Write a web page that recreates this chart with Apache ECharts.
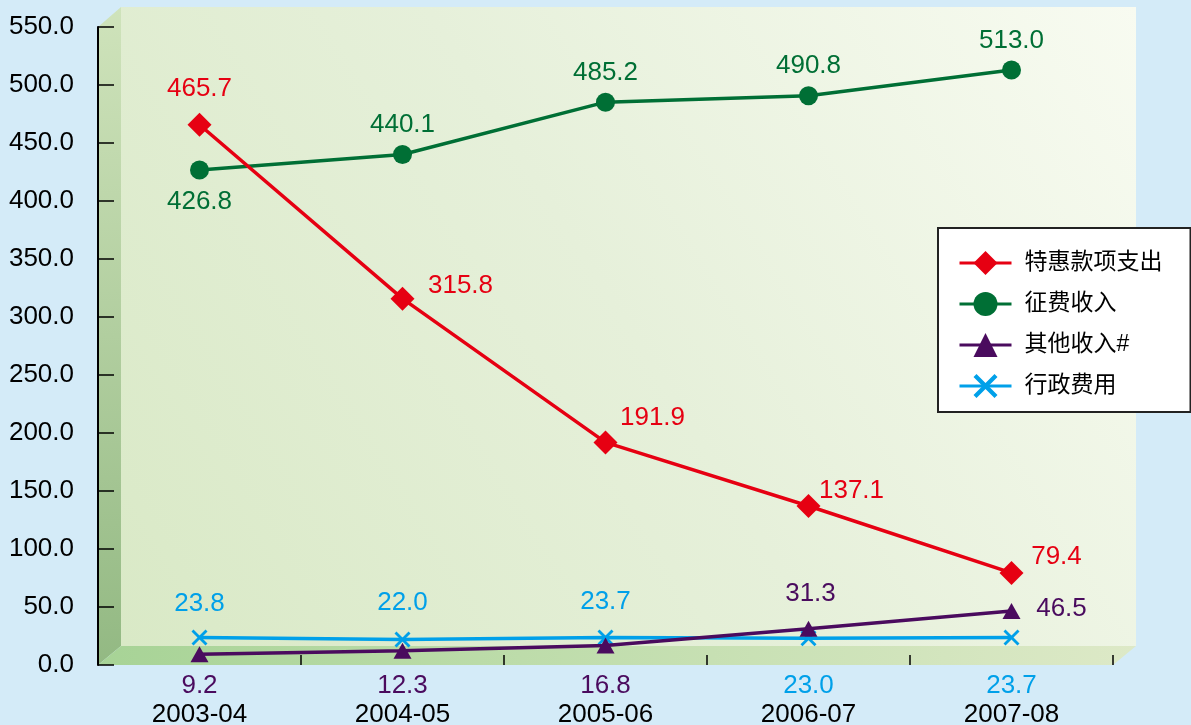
<!DOCTYPE html>
<html>
<head>
<meta charset="utf-8">
<script src="https://cdn.jsdelivr.net/npm/echarts@6/dist/echarts.min.js"></script>
<style>
html,body{margin:0;padding:0;background:#d4ebf8;}
#c{width:1191px;height:725px;}
</style>
</head>
<body>
<div id="c"></div>
<script>
// ---- data ----
const categories = ['2003-04', '2004-05', '2005-06', '2006-07', '2007-08'];
const seriesNames = ['特惠款项支出', '征费收入', '其他收入#', '行政费用'];
const concession = [465.7, 315.8, 191.9, 137.1, 79.4];   // 特惠款项支出
const levy = [426.8, 440.1, 485.2, 490.8, 513.0];        // 征费收入
const otherIncome = [9.2, 12.3, 16.8, 31.3, 46.5];       // 其他收入#
const adminCost = [23.8, 22.0, 23.7, 23.0, 23.7];        // 行政费用
const yMin = 0, yMax = 550, yStep = 50;
// which series' value is printed under each category label (instead of beside the point)
const belowAxisSeries = ['other', 'other', 'other', 'admin', 'admin'];

// ---- styling ----
const FONT = '"Liberation Sans", "Noto Sans CJK SC", sans-serif';
const C_RED = '#e60012', C_GREEN = '#006f35', C_PURPLE = '#4a0b5e', C_BLUE = '#00a0e9';
const concessionOffsets = [[0, -36], [58, -13], [47, -25], [43, -15], [45, -16]];
const levyOffsets = [[0, 32], [0, -30], [0, -29], [0, -30], [0, -29]];
const otherOffsets = [null, null, null, [2, -35], [50, -2]];
const adminOffsets = [[0, -34], [0, -37], [0, -36], null, null];

function items(values, offsets) {
  return values.map((v, i) => {
    const off = offsets[i];
    return off ? { value: v, label: { show: true, offset: off } } : { value: v, label: { show: false } };
  });
}

const G = { left: 98, top: 27, right: 1113, bottom: 665 };
const DX = 23, DY = -20;

const chart = echarts.init(document.getElementById('c'));
const xCross = 'path://M0,2 L2,0 L8,6 L14,0 L16,2 L10,8 L16,14 L14,16 L8,10 L2,16 L0,14 L6,8 Z';

const labelBase = { show: true, position: 'inside', fontSize: 26, fontFamily: FONT };

chart.setOption({
  backgroundColor: '#d4ebf8',
  animation: false,
  textStyle: { fontFamily: FONT },
  grid: { left: G.left, top: G.top, right: 1191 - G.right, bottom: 725 - G.bottom, containLabel: false, outerBoundsMode: 'none' },
  graphic: {
    elements: [
      { type: 'polygon', z: -10, silent: true,
        shape: { points: [[G.left + DX, G.top + DY], [G.right + DX, G.top + DY], [G.right + DX, G.bottom + DY + 1], [G.left + DX, G.bottom + DY + 1]] },
        style: { fill: new echarts.graphic.LinearGradient(0, 1, 1, 0, [
          { offset: 0, color: '#d9e9c6' }, { offset: 0.5, color: '#e6f0da' }, { offset: 1, color: '#f8fbf1' }]) } },
      { type: 'polygon', z: -9, silent: true,
        shape: { points: [[G.left, G.top], [G.left + DX, G.top + DY], [G.left + DX, G.bottom + DY + 1], [G.left, G.bottom]] },
        style: { fill: new echarts.graphic.LinearGradient(0, 0, 0, 1, [
          { offset: 0, color: '#cfe3bb' }, { offset: 1, color: '#93b983' }]) } },
      { type: 'polygon', z: -9, silent: true,
        shape: { points: [[G.left, G.bottom], [G.left + DX, G.bottom + DY + 1], [G.right + DX, G.bottom + DY + 1], [G.right, G.bottom]] },
        style: { fill: new echarts.graphic.LinearGradient(0, 0, 1, 0, [
          { offset: 0, color: '#a7d396' }, { offset: 1, color: '#dde9c7' }]) } }
    ]
  },
  legend: {
    orient: 'vertical', left: 938, top: 228,
    padding: [23, 28, 14, 20],
    backgroundColor: '#ffffff', borderColor: '#222', borderWidth: 2,
    itemWidth: 52, itemHeight: 30, itemGap: 17,
    lineStyle: { width: 3 },
    textStyle: { fontSize: 23, color: '#000', fontFamily: FONT, padding: [0, 0, 0, 8] },
    data: seriesNames
  },
  xAxis: {
    type: 'category', data: categories, boundaryGap: true,
    axisLine: { show: false },
    axisTick: { show: true, inside: true, length: 10, lineStyle: { color: '#000', width: 1.5 } },
    axisLabel: {
      margin: 6, interval: 0,
      formatter: (value, idx) => {
        const key = belowAxisSeries[idx];
        const v = key === 'other' ? otherIncome[idx] : adminCost[idx];
        return '{' + key + '|' + v.toFixed(1) + '}\n{c|' + value + '}';
      },
      rich: {
        other: { color: C_PURPLE, fontSize: 26, lineHeight: 29, fontFamily: FONT },
        admin: { color: C_BLUE, fontSize: 26, lineHeight: 29, fontFamily: FONT },
        c: { color: '#000', fontSize: 26, lineHeight: 29, fontFamily: FONT }
      }
    },
    splitLine: { show: false }
  },
  yAxis: {
    type: 'value', min: yMin, max: yMax, interval: yStep,
    axisLine: { show: true, lineStyle: { color: '#000', width: 2 } },
    axisTick: { show: true, inside: true, length: 16, lineStyle: { color: '#000', width: 1.5 } },
    axisLabel: { margin: 24, fontSize: 26, color: '#000', fontFamily: FONT, formatter: v => v.toFixed(1) },
    splitLine: { show: false }
  },
  series: [
    { name: seriesNames[0], type: 'line', data: items(concession, concessionOffsets),
      symbol: 'diamond', symbolSize: [24, 24], z: 4,
      lineStyle: { color: C_RED, width: 3.5 }, itemStyle: { color: C_RED },
      label: Object.assign({}, labelBase, { color: C_RED, formatter: p => p.value.toFixed(1) }) },
    { name: seriesNames[1], type: 'line', data: items(levy, levyOffsets),
      symbol: 'circle', symbolSize: 19, z: 3,
      lineStyle: { color: C_GREEN, width: 3.5 }, itemStyle: { color: C_GREEN },
      label: Object.assign({}, labelBase, { color: C_GREEN, formatter: p => p.value.toFixed(1) }) },
    { name: seriesNames[2], type: 'line', data: items(otherIncome, otherOffsets),
      symbol: 'triangle', symbolSize: [18, 16], z: 3,
      lineStyle: { color: C_PURPLE, width: 3.5 }, itemStyle: { color: C_PURPLE },
      label: Object.assign({}, labelBase, { color: C_PURPLE, formatter: p => p.value.toFixed(1) }) },
    { name: seriesNames[3], type: 'line', data: items(adminCost, adminOffsets),
      symbol: xCross, symbolSize: 16, z: 2,
      lineStyle: { color: C_BLUE, width: 3.5 }, itemStyle: { color: C_BLUE },
      label: Object.assign({}, labelBase, { color: C_BLUE, formatter: p => p.value.toFixed(1) }) }
  ]
});
</script>
</body>
</html>
